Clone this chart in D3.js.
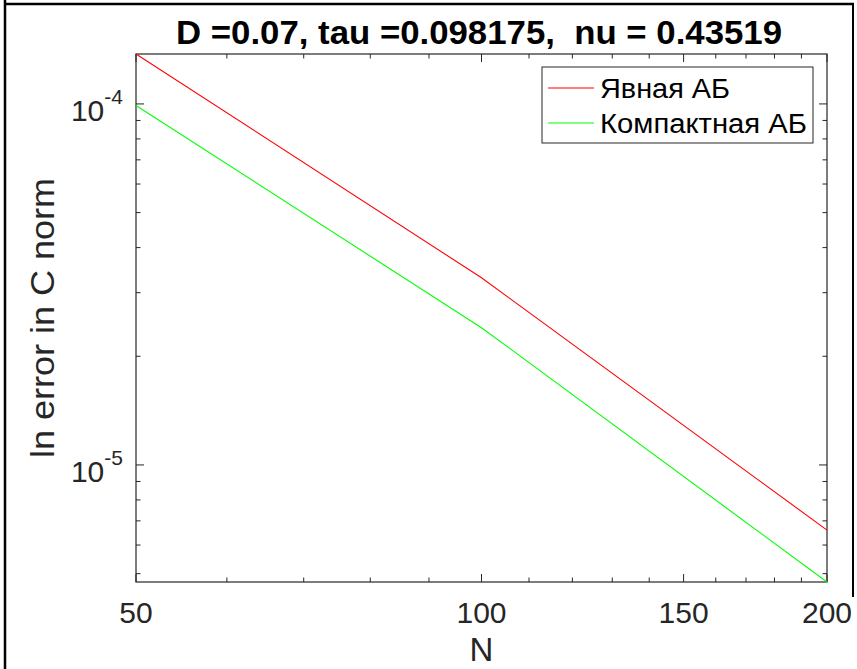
<!DOCTYPE html>
<html><head><meta charset="utf-8">
<script src="https://cdn.jsdelivr.net/npm/d3@7"></script>
<style>html,body{margin:0;padding:0;background:#fff;}svg{display:block;}text{white-space:pre;}</style>
</head><body>
<svg id="c" width="857" height="669"></svg>
<script>
const N = [50, 100, 200];
const explicitAB = [1.375e-4, 3.30e-5, 6.60e-6];
const compactAB = [0.99e-4, 2.40e-5, 4.74e-6];
const seriesNames = ["Явная АБ", "Компактная АБ"];
const seriesColors = ["#ff0000", "#00ff00"];
const xMajorTicks = [50, 100, 150, 200];
const xMinorTicks = [60, 70, 80, 90, 110, 120, 130, 140, 160, 170, 180, 190];
const yMajorTicks = [1e-5, 1e-4];
const yMajorExp = ["-5", "-4"];
const yMinorTicks = [5e-6, 6e-6, 7e-6, 8e-6, 9e-6, 2e-5, 3e-5, 4e-5, 5e-5, 6e-5, 7e-5, 8e-5, 9e-5];
const titleText = "D =0.07, tau =0.098175,  nu = 0.43519";
const xLabel = "N";
const yLabel = "ln error in C norm";

const svg = d3.select("#c");
const L = 136, R = 827, T = 54, B = 582;
const FONT = "'Liberation Sans', Arial, Helvetica, sans-serif";
const axC = "#262626";

const allY = explicitAB.concat(compactAB);
const x = d3.scaleLog().domain([N[0], N[N.length-1]]).range([L, R]);
const y = d3.scaleLog().domain(d3.extent(allY)).range([B, T]);

// outer frame
svg.append("line").attr("x1",5).attr("x2",5).attr("y1",0).attr("y2",669).attr("stroke","#000").attr("stroke-width",2.5);
svg.append("line").attr("x1",4).attr("x2",854).attr("y1",4).attr("y2",4).attr("stroke","#000").attr("stroke-width",2.5);
svg.append("line").attr("x1",853).attr("x2",853).attr("y1",3).attr("y2",597).attr("stroke","#000").attr("stroke-width",2);

// ticks (inward)
const g = svg.append("g");
function xt(v, len){
  g.append("line").attr("x1",x(v)).attr("x2",x(v)).attr("y1",B).attr("y2",B-len).attr("stroke",axC);
  g.append("line").attr("x1",x(v)).attr("x2",x(v)).attr("y1",T).attr("y2",T+len).attr("stroke",axC);
}
function yt(v, len){
  g.append("line").attr("y1",y(v)).attr("y2",y(v)).attr("x1",L).attr("x2",L+len).attr("stroke",axC);
  g.append("line").attr("y1",y(v)).attr("y2",y(v)).attr("x1",R).attr("x2",R-len).attr("stroke",axC);
}
xMajorTicks.forEach(v=>xt(v,8));
xMinorTicks.forEach(v=>xt(v,4.5));
yMajorTicks.forEach(v=>yt(v,8));
yMinorTicks.forEach(v=>yt(v,4.5));

// box
svg.append("rect").attr("x",L).attr("y",T).attr("width",R-L).attr("height",B-T)
  .attr("fill","none").attr("stroke",axC).attr("stroke-width",1.2);

// lines
const line = d3.line().x(d=>x(d[0])).y(d=>y(d[1]));
[explicitAB, compactAB].forEach((s,i)=>{
  svg.append("path").datum(N.map((n,j)=>[n,s[j]])).attr("d",line)
    .attr("fill","none").attr("stroke",seriesColors[i]).attr("stroke-width",1.1);
});

// x tick labels
xMajorTicks.forEach(v=>{
  svg.append("text").attr("x",x(v)).attr("y",623).attr("text-anchor","middle")
    .attr("font-family",FONT).attr("font-size",30).attr("fill",axC).text(v);
});
// y tick labels
yMajorTicks.forEach((v,i)=>{
  const t = svg.append("text").attr("x",L-13).attr("y",y(v)+17).attr("text-anchor","end")
    .attr("font-family",FONT).attr("font-size",30).attr("fill",axC);
  t.append("tspan").text("10");
  t.append("tspan").attr("dy",-17).attr("font-size",21).text(yMajorExp[i]);
});

// axis labels
svg.append("text").attr("x",(L+R)/2).attr("y",661).attr("text-anchor","middle")
  .attr("font-family",FONT).attr("font-size",33).attr("fill",axC).text(xLabel);
svg.append("text").attr("transform",`translate(54,${(T+B)/2}) rotate(-90)`).attr("text-anchor","middle")
  .attr("font-family",FONT).attr("font-size",34).attr("fill",axC)
  .attr("textLength",280).attr("lengthAdjust","spacingAndGlyphs").text(yLabel);

// title
svg.append("text").attr("x",479).attr("y",44).attr("text-anchor","middle")
  .attr("font-family",FONT).attr("font-weight","bold").attr("font-size",34).attr("fill","#000")
  .attr("textLength",606).attr("lengthAdjust","spacingAndGlyphs").text(titleText);

// legend
const lg = svg.append("g");
lg.append("rect").attr("x",542).attr("y",67).attr("width",271).attr("height",76)
  .attr("fill","#fff").attr("stroke",axC).attr("stroke-width",1);
const legendWidths = [130, 207];
seriesNames.forEach((nm,i)=>{
  const yy = 88 + i*35;
  lg.append("line").attr("x1",548).attr("x2",594).attr("y1",yy).attr("y2",yy)
    .attr("stroke",seriesColors[i]).attr("stroke-width",1.1);
  lg.append("text").attr("x",600).attr("y",yy+10).attr("font-family",FONT).attr("font-size",27)
    .attr("fill","#000").attr("textLength",legendWidths[i]).attr("lengthAdjust","spacingAndGlyphs").text(nm);
});
</script>
</body></html>
